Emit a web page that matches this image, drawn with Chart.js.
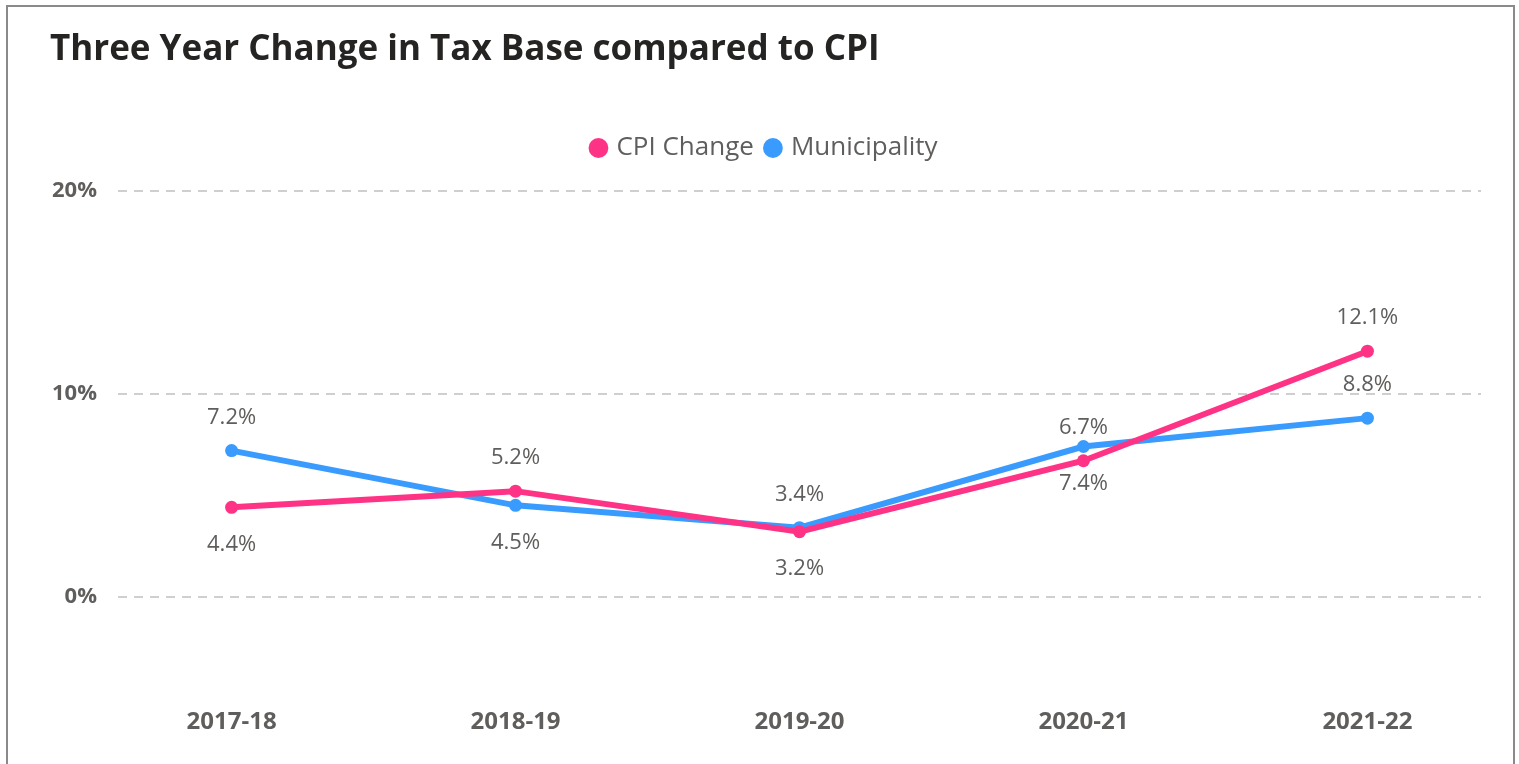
<!DOCTYPE html>
<html>
<head>
<meta charset="utf-8">
<script src="https://cdn.jsdelivr.net/npm/chart.js@4"></script>
<style>
    html, body { margin: 0; padding: 0; background: #ffffff; overflow: hidden; }
    #card {
        position: absolute;
        left: 6px; top: 5px;
        width: 1505px; height: 800px;
        border: 2px solid #8a8a8a;
        background: #ffffff;
    }
    #wrap { position: absolute; left: -8px; top: -7px; width: 1519px; height: 764px; }
</style>
</head>
<body>
<div id="card"><div id="wrap"><canvas id="taxChart"></canvas></div></div>
<script>
// Datos del gráfico
const years = ['2017-18', '2018-19', '2019-20', '2020-21', '2021-22'];
const cpiChange = [4.4, 5.2, 3.2, 6.7, 12.1];
const municipality = [7.2, 4.5, 3.4, 7.4, 8.8];
const yTicks = [0, 10, 20];

// Posición de las etiquetas de datos (arriba / abajo)
const cpiLabelPos = ['below', 'above', 'below', 'above', 'above'];
const munLabelPos = ['above', 'below', 'above', 'below', 'above'];

const PINK = '#FF3385';
const BLUE = '#3A9BFF';
const FONT = '"Open Sans", "Segoe UI", sans-serif';

document.addEventListener('DOMContentLoaded', function() {
    initChart();
});

// Plugin para dibujar las etiquetas de valores
const valueLabels = {
    id: 'valueLabels',
    afterDatasetsDraw(chart) {
        const ctx = chart.ctx;
        ctx.save();
        ctx.font = '22px ' + FONT;
        ctx.fillStyle = '#605E5C';
        ctx.textAlign = 'center';
        ctx.textBaseline = 'middle';
        chart.data.datasets.forEach((ds, i) => {
            const meta = chart.getDatasetMeta(i);
            meta.data.forEach((pt, j) => {
                const pos = ds.labelPos[j];
                const dy = pos === 'above' ? -33 : 37;
                ctx.fillText(ds.data[j].y.toFixed(1) + '%', pt.x, pt.y + dy);
            });
        });
        ctx.restore();
    }
};

// Espacio extra debajo de la leyenda
const legendGap = {
    id: 'legendGap',
    beforeInit(chart) {
        const origFit = chart.legend.fit;
        chart.legend.fit = function() {
            origFit.call(this);
            this.height += 20;
        };
    }
};

function initChart() {
    const ctx = document.getElementById('taxChart').getContext('2d');
    new Chart(ctx, {
        type: 'line',
        data: {
            datasets: [{
                label: 'CPI Change',
                data: cpiChange.map((v, i) => ({ x: i, y: v })),
                labelPos: cpiLabelPos,
                borderColor: PINK,
                backgroundColor: PINK,
                borderWidth: 6,
                pointRadius: 6.5,
                pointHoverRadius: 6.5,
                pointBorderWidth: 0,
                tension: 0
            }, {
                label: 'Municipality',
                data: municipality.map((v, i) => ({ x: i, y: v })),
                labelPos: munLabelPos,
                borderColor: BLUE,
                backgroundColor: BLUE,
                borderWidth: 6,
                pointRadius: 6.5,
                pointHoverRadius: 6.5,
                pointBorderWidth: 0,
                tension: 0
            }]
        },
        options: {
            responsive: true,
            maintainAspectRatio: false,
            animation: false,
            layout: {
                padding: { left: 50, right: 38, top: 0, bottom: 0 }
            },
            scales: {
                x: {
                    type: 'linear',
                    min: -0.4,
                    max: 4.4,
                    afterBuildTicks: (scale) => {
                        scale.ticks = years.map((_, i) => ({ value: i }));
                    },
                    afterFit: (scale) => { scale.height = 66; },
                    grid: { display: false, drawTicks: false },
                    border: { display: false },
                    ticks: {
                        padding: 10,
                        color: '#605E5C',
                        font: { family: FONT, size: 24, weight: 'bold' },
                        callback: (v) => years[v]
                    }
                },
                y: {
                    min: -5,
                    max: 20,
                    afterBuildTicks: (scale) => {
                        scale.ticks = yTicks.map(v => ({ value: v }));
                    },
                    afterFit: (scale) => { scale.width = 68; },
                    grid: { color: '#CFCFCF', lineWidth: 2, drawTicks: false },
                    border: { display: false, dash: [9, 7] },
                    ticks: {
                        padding: 21,
                        color: '#605E5C',
                        font: { family: FONT, size: 22, weight: 'bold' },
                        callback: (v) => v + '%'
                    }
                }
            },
            plugins: {
                title: {
                    display: true,
                    text: 'Three Year Change in Tax Base compared to CPI',
                    align: 'start',
                    color: '#252423',
                    font: { family: FONT, size: 35, weight: 'bold' },
                    padding: { top: 29, bottom: 50 }
                },
                legend: {
                    position: 'top',
                    labels: {
                        usePointStyle: true,
                        pointStyle: 'circle',
                        boxWidth: 10,
                        boxHeight: 14,
                        color: '#605E5C',
                        font: { family: FONT, size: 26 },
                        padding: 14
                    }
                },
                tooltip: { enabled: false }
            }
        },
        plugins: [valueLabels, legendGap]
    });
}
</script>
</body>
</html>
